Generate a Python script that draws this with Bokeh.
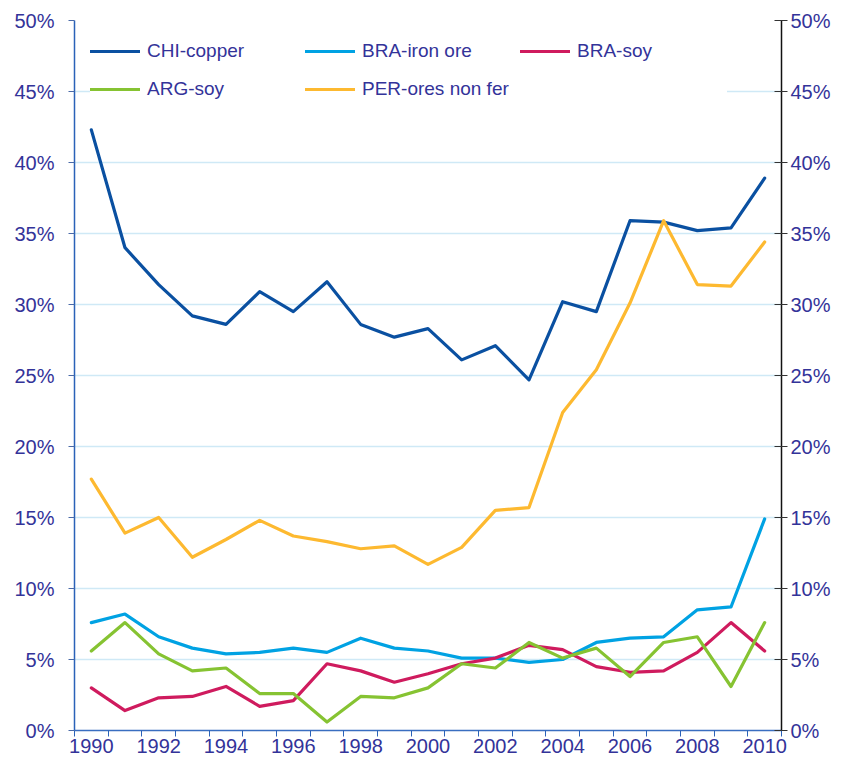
from bokeh.plotting import figure
from bokeh.models import FixedTicker, LinearAxis, PrintfTickFormatter, Range1d
from bokeh.embed import file_html
from bokeh.resources import INLINE

years = list(range(1990, 2011))
chi_copper = [42.3, 34.0, 31.4, 29.2, 28.6, 30.9, 29.5, 31.6, 28.6, 27.7, 28.3,
              26.1, 27.1, 24.7, 30.2, 29.5, 35.9, 35.8, 35.2, 35.4, 38.9]
bra_iron = [7.6, 8.2, 6.6, 5.8, 5.4, 5.5, 5.8, 5.5, 6.5, 5.8, 5.6,
            5.1, 5.1, 4.8, 5.0, 6.2, 6.5, 6.6, 8.5, 8.7, 14.9]
bra_soy = [3.0, 1.4, 2.3, 2.4, 3.1, 1.7, 2.1, 4.7, 4.2, 3.4, 4.0,
           4.7, 5.1, 6.0, 5.7, 4.5, 4.1, 4.2, 5.5, 7.6, 5.6]
arg_soy = [5.6, 7.6, 5.4, 4.2, 4.4, 2.6, 2.6, 0.6, 2.4, 2.3, 3.0,
           4.7, 4.4, 6.2, 5.1, 5.8, 3.8, 6.2, 6.6, 3.1, 7.6]
per_ores = [17.7, 13.9, 15.0, 12.2, 13.45, 14.8, 13.7, 13.3, 12.8, 13.0, 11.7,
            12.9, 15.5, 15.7, 22.4, 25.4, 30.1, 35.9, 31.4, 31.3, 34.4]

series_names = ["CHI-copper", "BRA-iron ore", "BRA-soy", "ARG-soy", "PER-ores non fer"]
series_values = [chi_copper, bra_iron, bra_soy, arg_soy, per_ores]
series_colors = ["#0a50a1", "#00a2e3", "#cf1b5e", "#86c332", "#fdb930"]

y_ticks = list(range(0, 55, 5))
x_label_ticks = list(range(1990, 2011, 2))
x_boundaries = [y - 0.5 for y in range(1990, 2012)]

TEXT = "#333399"
FONT = "Liberation Sans"

p = figure(width=833, height=755, output_backend="svg", toolbar_location=None,
           x_range=Range1d(1989.5, 2010.5), y_range=Range1d(0, 50),
           min_border_left=74, min_border_top=20, min_border_right=5, min_border_bottom=5)
p.outline_line_color = None
p.background_fill_color = "white"
p.border_fill_color = "white"

for name, vals, col in zip(series_names, series_values, series_colors):
    p.line(years, vals, line_color=col, line_width=3.2, line_join="round",
           line_cap="round", legend_label=name)

# grid
p.xgrid.grid_line_color = None
p.ygrid.ticker = FixedTicker(ticks=y_ticks)
p.ygrid.grid_line_color = "#cfe9f6"
p.ygrid.grid_line_width = 1.5

# bottom axis
xa = p.xaxis[0]
xa.ticker = FixedTicker(ticks=x_label_ticks, minor_ticks=x_boundaries)
xa.major_tick_out = 0
xa.major_tick_in = 0
xa.minor_tick_out = 6
xa.minor_tick_in = 0
xa.minor_tick_line_color = "#2a62b8"
xa.axis_line_color = "#3a6ec0"
xa.axis_line_width = 1.5
xa.major_label_text_color = TEXT
xa.major_label_text_font = FONT
xa.major_label_text_font_size = "20px"
xa.major_label_standoff = 2

# left axis
ya = p.yaxis[0]
ya.ticker = FixedTicker(ticks=y_ticks)
ya.formatter = PrintfTickFormatter(format="%d%%")
ya.major_tick_out = 6
ya.major_tick_in = 0
ya.minor_tick_line_color = None
ya.major_tick_line_color = "#4a6aa8"
ya.axis_line_color = "#2a62b8"
ya.axis_line_width = 1.5
ya.major_label_text_color = TEXT
ya.major_label_text_font = FONT
ya.major_label_text_font_size = "20px"
ya.major_label_standoff = 14

# right axis
ra = LinearAxis(ticker=FixedTicker(ticks=y_ticks), formatter=PrintfTickFormatter(format="%d%%"))
ra.major_tick_out = 6
ra.major_tick_in = 7
ra.minor_tick_line_color = None
ra.major_tick_line_color = "#333333"
ra.axis_line_color = "#111111"
ra.axis_line_width = 1.5
ra.major_label_text_color = TEXT
ra.major_label_text_font = FONT
ra.major_label_text_font_size = "20px"
ra.major_label_standoff = 3
p.add_layout(ra, "right")

# legend
lg = p.legend[0]
lg.location = "top_left"
lg.orientation = "horizontal"
lg.ncols = 3
lg.margin = 16
lg.padding = 8
lg.spacing = 8
lg.glyph_width = 50
lg.glyph_height = 30
lg.label_standoff = 7
lg.label_width = 150
lg.label_text_color = TEXT
lg.label_text_font = FONT
lg.label_text_font_size = "19px"
lg.border_line_color = None
lg.background_fill_color = "white"
lg.background_fill_alpha = 1.0

open("out.html", "w").write(file_html(p, INLINE))
